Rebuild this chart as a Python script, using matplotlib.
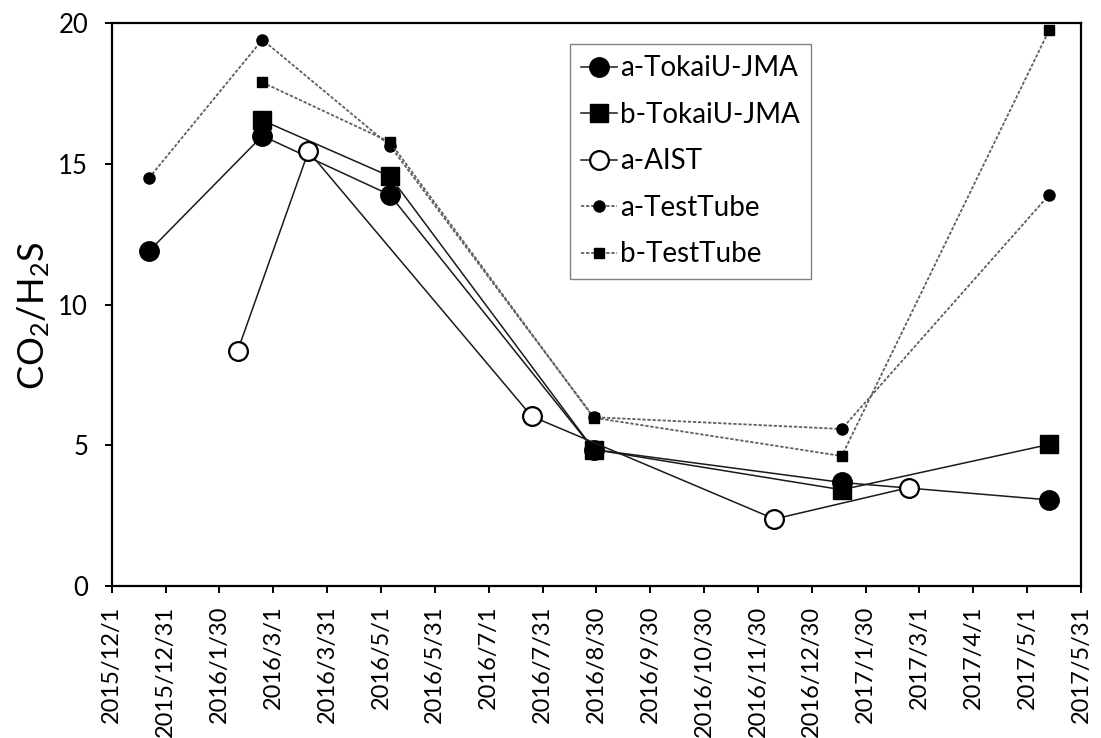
import numpy as np
import matplotlib
matplotlib.use("Agg")
import matplotlib.pyplot as plt

plt.rcParams['font.family'] = ['Lato', 'DejaVu Sans']
plt.rcParams['mathtext.default'] = 'regular'

# Axis range and tick labels (30.4-day major unit)
x_start = np.datetime64('2015-12-01')
x_end = np.datetime64('2017-05-31')
tick_labels = ['2015/12/1', '2015/12/31', '2016/1/30', '2016/3/1', '2016/3/31',
               '2016/5/1', '2016/5/31', '2016/7/1', '2016/7/31', '2016/8/30',
               '2016/9/30', '2016/10/30', '2016/11/30', '2016/12/30', '2017/1/30',
               '2017/3/1', '2017/4/1', '2017/5/1', '2017/5/31']

# Sampling campaigns
dates_a_tokai = ['2015-12-22', '2016-02-24', '2016-05-06', '2016-08-29', '2017-01-16', '2017-05-13']
vals_a_tokai = [11.9, 16.0, 13.9, 4.85, 3.68, 3.06]

dates_b_tokai = ['2016-02-24', '2016-05-06', '2016-08-29', '2017-01-16', '2017-05-13']
vals_b_tokai = [16.55, 14.56, 4.85, 3.42, 5.03]

dates_a_aist = ['2016-02-10', '2016-03-21', '2016-07-25', '2016-12-09', '2017-02-23']
vals_a_aist = [8.35, 15.45, 6.03, 2.38, 3.5]

dates_a_tube = ['2015-12-22', '2016-02-24', '2016-05-06', '2016-08-29', '2017-01-16', '2017-05-13']
vals_a_tube = [14.5, 19.42, 15.65, 6.0, 5.58, 13.9]

dates_b_tube = ['2016-02-24', '2016-05-06', '2016-08-29', '2017-01-16', '2017-05-13']
vals_b_tube = [17.9, 15.78, 5.98, 4.62, 19.75]


def days(ds):
    return (np.array(ds, dtype='datetime64[D]') - x_start).astype(float)


span = float((x_end - x_start).astype(int))

fig = plt.figure(figsize=(11.01, 7.38), dpi=100)
ax = fig.add_axes([0.1015, 0.206, 0.8803, 0.7624])

solid = dict(color='#1a1a1a', lw=1.1, linestyle='-')
dotted = dict(color='#5f5f5f', lw=1.3, linestyle=(0, (1.8, 1.0)))

ax.plot(days(dates_a_tokai), vals_a_tokai, marker='o', ms=14, mfc='black', mec='black',
        label='a-TokaiU-JMA', **solid)
ax.plot(days(dates_b_tokai), vals_b_tokai, marker='s', ms=13.5, mfc='black', mec='black',
        label='b-TokaiU-JMA', **solid)
ax.plot(days(dates_a_aist), vals_a_aist, marker='o', ms=13.5, mfc='white', mec='black', mew=1.6,
        label='a-AIST', **solid)
ax.plot(days(dates_a_tube), vals_a_tube, marker='o', ms=8, mfc='black', mec='black',
        label='a-TestTube', **dotted)
ax.plot(days(dates_b_tube), vals_b_tube, marker='s', ms=7.5, mfc='black', mec='black',
        label='b-TestTube', **dotted)

ax.set_xlim(0, span)
ax.set_ylim(0, 20)
ax.set_xticks(np.linspace(0, span, len(tick_labels)))
ax.set_xticklabels(tick_labels, rotation=90)
ax.set_yticks([0, 5, 10, 15, 20])

for s in ax.spines.values():
    s.set_linewidth(1.6)
    s.set_color('black')
ax.tick_params(axis='both', direction='out', length=5, width=1.4, labelsize=17, colors='black')
ax.tick_params(axis='x', pad=9)
ax.tick_params(axis='y', pad=12, labelsize=18.5)

ax.set_ylabel('CO$_2$/H$_2$S', fontsize=26, labelpad=2)
ax.yaxis.set_label_coords(-0.062, 0.48)

leg = ax.legend(loc='upper left', bbox_to_anchor=(0.473, 0.963), borderaxespad=0,
                fontsize=20, frameon=True, fancybox=False, framealpha=1,
                edgecolor='#808080', handlelength=1.3, handletextpad=0.1,
                labelspacing=0.74, borderpad=0.4)
leg.get_frame().set_linewidth(1.0)

fig.savefig('out.png', dpi=100)
